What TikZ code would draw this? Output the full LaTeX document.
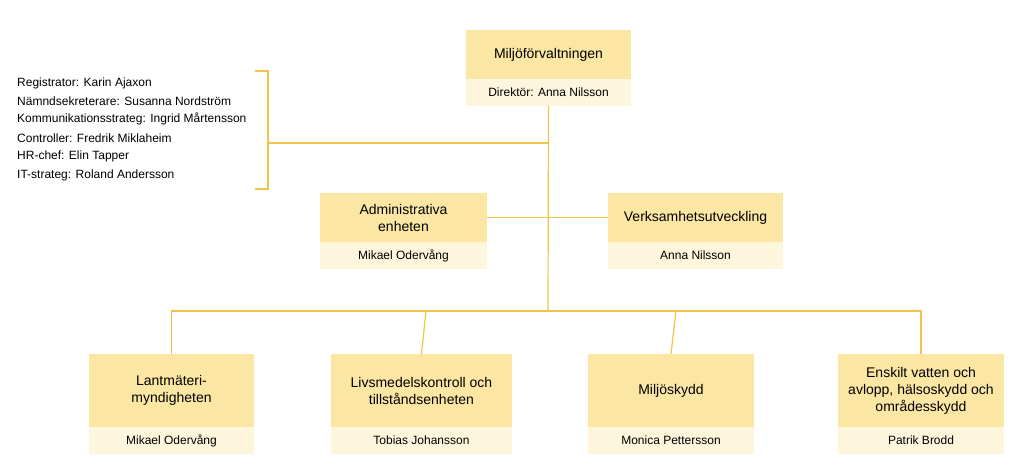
\documentclass[tikz,border=0pt]{standalone}
\usepackage{fontspec}
\setmainfont{Liberation Sans}
\definecolor{hd}{HTML}{FBE7A3}
\definecolor{sb}{HTML}{FDF6DC}
\definecolor{ln}{HTML}{F2C44C}
\begin{document}
\begin{tikzpicture}[x=1pt,y=-1pt,
  hdbox/.style={fill=hd,inner sep=0,align=center,font=\fontsize{14}{17}\selectfont},
  sbbox/.style={fill=sb,inner sep=0,align=center,font=\fontsize{12}{14}\selectfont},
  conn/.style={draw=ln,line width=1.2pt},
  lt/.style={anchor=west,inner sep=0,font=\fontsize{12}{14}\selectfont}]
\useasboundingbox (0,0) rectangle (1024,474);
% boxes: name, x1,x2, y1,ymid,y2
\newcommand\orgbox[7]{%
  \node[hdbox,minimum width={#3-#2},minimum height={#5-#4}] (#1h) at ({(#2+#3)/2},{(#4+#5)/2}) {#6};
  \node[sbbox,minimum width={#3-#2},minimum height=27] (#1s) at ({(#2+#3)/2},{#5+13.5}) {#7};}
\orgbox{top}{466}{631}{30}{79}{Miljöförvaltningen}{Direktör: Anna Nilsson}
\orgbox{adm}{320}{487}{193}{242}{Administrativa\\enheten}{Mikael Odervång}
\orgbox{ver}{608}{783}{193}{242}{Verksamhetsutveckling}{Anna Nilsson}
\orgbox{b1}{89}{254}{354}{427}{Lantmäteri-\\myndigheten}{Mikael Odervång}
\orgbox{b2}{331}{512}{354}{427}{Livsmedelskontroll och\\tillståndsenheten}{Tobias Johansson}
\orgbox{b3}{588}{754}{354}{427}{Miljöskydd}{Monica Pettersson}
\orgbox{b4}{838}{1004}{354}{427}{Enskilt vatten och\\avlopp, hälsoskydd och\\områdesskydd}{Patrik Brodd}
\coordinate (bar) at (548,311);
\coordinate (brk) at (268,143);
\draw[conn] (tops.south) -- (bar);
\draw[conn] (admh.east) -- (verh.west);
\draw[conn] (brk) -- (548,143);
\draw[conn] (255,71) -- (268,71) -- (268,189) -- (255,189);
\draw[conn] (b1h.north) |- (bar) -| (b4h.north);
\draw[conn] (b2h.north) -- (426,311);
\draw[conn] (b3h.north) -- (676,311);
\node[lt] (l1) at (17,83) {Registrator: Karin Ajaxon};
\node[lt] (l2) at (17,101) {Nämndsekreterare: Susanna Nordström};
\node[lt] (l3) at (17,119) {Kommunikationsstrateg: Ingrid Mårtensson};
\node[lt] (l4) at (17,138) {Controller: Fredrik Miklaheim};
\node[lt] (l5) at (17,156) {HR-chef: Elin Tapper};
\node[lt] (l6) at (17,175) {IT-strateg: Roland Andersson};
\end{tikzpicture}
\end{document}
